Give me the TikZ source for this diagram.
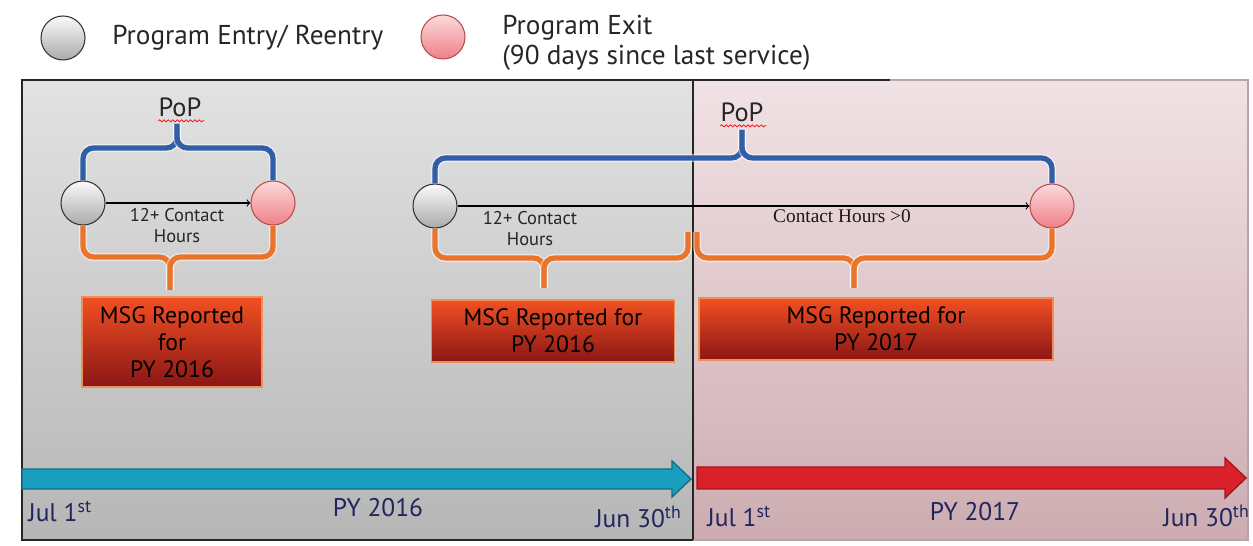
\documentclass[tikz,border=0pt]{standalone}
\usepackage{fontspec}
\setmainfont{PT Sans}
\newfontfamily\serifface{Liberation Serif}
\usetikzlibrary{positioning,decorations.pathmorphing}

\definecolor{popblue}{RGB}{50,94,168}
\definecolor{msgorange}{RGB}{234,116,42}
\definecolor{navytext}{RGB}{32,38,92}
\definecolor{graytop}{RGB}{226,226,226}
\definecolor{graybot}{RGB}{182,182,182}
\definecolor{pinktop}{RGB}{241,226,229}
\definecolor{pinkbot}{RGB}{204,172,177}
\definecolor{msgtop}{RGB}{242,80,34}
\definecolor{msgbot}{RGB}{138,22,22}
\definecolor{dottop}{RGB}{250,250,250}
\definecolor{dotbot}{RGB}{170,170,170}
\definecolor{exittop}{RGB}{252,218,220}
\definecolor{exitbot}{RGB}{238,128,134}
\definecolor{armblue}{RGB}{26,158,192}
\definecolor{armred}{RGB}{218,32,40}

\begin{document}
\begin{tikzpicture}[
  x=0.02cm, y=-0.02cm,
  entry_dot/.style={circle, minimum size=0.88cm, inner sep=0pt, draw=black!80, line width=0.6pt, top color=dottop, bottom color=dotbot},
  exit_dot/.style={circle, minimum size=0.88cm, inner sep=0pt, draw=red!60!black!70, line width=0.6pt, top color=exittop, bottom color=exitbot},
  legend_text/.style={inner sep=0pt, anchor=west, align=left, text=black!85, font=\fontsize{15.5}{17}\selectfont},
  hours_text/.style={inner sep=0pt, align=center, text=black!85, font=\fontsize{10.5}{12}\selectfont},
  pop_text/.style={inner sep=0pt, text=black!85, font=\fontsize{15}{17}\selectfont},
  msg_box/.style={rectangle, draw=msgorange!80!white, line width=0.8pt, top color=msgtop, bottom color=msgbot, align=center, inner sep=0pt, font=\fontsize{13.5}{15.5}\selectfont},
  pop_brace/.style={draw=popblue, line width=3pt, rounded corners=6pt, preaction={draw=white, opacity=0.5, line width=4.6pt}},
  msg_brace/.style={draw=msgorange, line width=3pt, rounded corners=6pt, preaction={draw=white, opacity=0.5, line width=4.6pt}},
  year_text/.style={inner sep=0pt, text=navytext, font=\fontsize{14.5}{17}\selectfont},
]
\useasboundingbox (0,0) rectangle (1253,546);

% panels
\shade[top color=graytop, bottom color=graybot] (22,80) rectangle (693,540);
\shade[top color=pinktop, bottom color=pinkbot] (693,80) rectangle (1248,540);
\draw[pinkbot!80!gray, line width=0.6pt] (693,80) -- (1248,80) -- (1248,540) -- (693,540);
\draw[black!85, line width=0.8pt] (693,80) -- (22,80) -- (22,540) -- (693,540);
\draw[black!85, line width=0.8pt] (693,80) -- (693,540);
\draw[black!85, line width=0.8pt] (693,80) -- (890,80);

% legend
\node (lgEnt) [entry_dot] at (63,38) {};
\node (lgEntT) [legend_text] at (112,38) {Program Entry/ Reentry};
\node (lgExit) [exit_dot] at (443,37) {};
\node (lgExitT) [legend_text] at (502,43) {Program Exit\\(90 days since last service)};

% first period of participation
\node (entA) [entry_dot] at (83,203) {};
\node (exitA) [exit_dot] at (273,203) {};
\draw[->, line width=0.6pt] (entA) -- (exitA);
\node (hrsA) [hours_text] at (177,226) {12+ Contact\\Hours};
\node (popA) [pop_text] at (180,107) {PoP};
\draw[red, line width=0.4pt, decorate, decoration={snake, amplitude=0.6pt, segment length=2.5pt}] (popA.south west) ++(0,4) -- ++(46,0);
\coordinate (popAm) at (177,148);
\draw[pop_brace] (entA.north) |- (popAm) -- (177,124);
\draw[pop_brace] (exitA.north) |- (popAm) -- (177,124);
\node (msgA) [msg_box, minimum width=3.6cm, minimum height=1.8cm] at (172,342) {MSG Reported\\for\\PY 2016};
\coordinate (brA) at (170,257);
\draw[msg_brace] (entA.south) |- (brA) -- ++(0,33);
\draw[msg_brace] (exitA.south) |- (brA) -- ++(0,33);

% second period of participation
\node (entB) [entry_dot] at (435,206) {};
\node (exitB) [exit_dot] at (1052,206) {};
\draw[->, line width=0.6pt] (entB) -- (exitB);
\node (hrsB) [hours_text] at (530,229) {12+ Contact\\Hours};
\node (hrsC) [inner sep=0pt, text=black!90, font=\serifface\fontsize{11}{13}\selectfont] at (842,216) {Contact Hours >0};
\node (popB) [pop_text] at (742,112) {PoP};
\draw[red, line width=0.4pt, decorate, decoration={snake, amplitude=0.6pt, segment length=2.5pt}] (popB.south west) ++(0,4) -- ++(46,0);
\coordinate (popBm) at (742,158);
\draw[pop_brace] (entB.north) |- (popBm) -- (742,130);
\draw[pop_brace] (exitB.north) |- (popBm) -- (742,130);
\node (msgB) [msg_box, minimum width=4.86cm, minimum height=1.24cm] at (553,331) {MSG Reported for\\PY 2016};
\coordinate (brB) at (544,258);
\draw[msg_brace] (entB.south) |- (brB) -- ++(0,30);
\draw[msg_brace] (688,232) |- (brB) -- ++(0,30);
\node (msgC) [msg_box, minimum width=7.08cm, minimum height=1.24cm] at (876,329) {MSG Reported for\\PY 2017};
\coordinate (brC) at (854,258);
\draw[msg_brace] (697,232) |- (brC) -- ++(0,30);
\draw[msg_brace] (exitB.south) |- (brC) -- ++(0,30);

% program years
\draw[fill=armblue, draw=armblue!70!black, line width=0.8pt] (22,469) -- (672,469) -- (672,461) -- (691,479) -- (672,497) -- (672,489) -- (22,489) -- cycle;
\draw[fill=armred, draw=armred!75!black, line width=0.8pt] (697,467) -- (1225,467) -- (1225,458) -- (1246,478) -- (1225,498) -- (1225,489) -- (697,489) -- cycle;
\node (julA) [year_text, anchor=west] at (28,512) {Jul 1\textsuperscript{st}};
\node (pyA) [year_text] at (378,508) {PY 2016};
\node (junA) [year_text, anchor=east] at (682,517) {Jun 30\textsuperscript{th}};
\node (julB) [year_text, anchor=west] at (707,517) {Jul 1\textsuperscript{st}};
\node (pyB) [year_text] at (975,512) {PY 2017};
\node (junB) [year_text, anchor=east] at (1250,516) {Jun 30\textsuperscript{th}};
\end{tikzpicture}
\end{document}
